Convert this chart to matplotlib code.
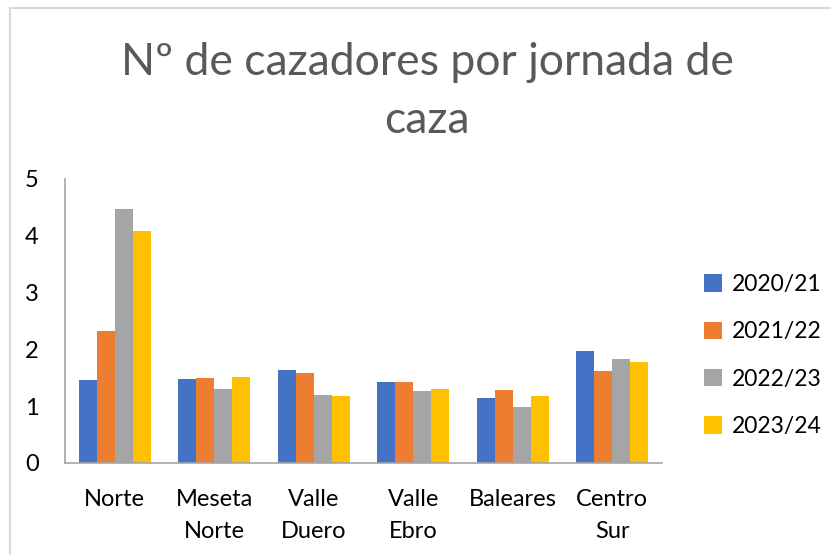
import matplotlib.pyplot as plt
import numpy as np
from matplotlib.lines import Line2D

plt.rcParams['font.family'] = ['Lato', 'DejaVu Sans']

regions = ['Norte', 'Meseta\nNorte', 'Valle\nDuero', 'Valle\nEbro', 'Baleares', 'Centro\nSur']
seasons = ['2020/21', '2021/22', '2022/23', '2023/24']
v2020 = [1.46, 1.47, 1.64, 1.42, 1.15, 1.97]
v2021 = [2.32, 1.49, 1.58, 1.43, 1.29, 1.62]
v2022 = [4.47, 1.31, 1.19, 1.26, 0.99, 1.83]
v2023 = [4.09, 1.51, 1.18, 1.31, 1.18, 1.77]
colors = ['#4472C4', '#ED7D31', '#A5A5A5', '#FFC000']

fig = plt.figure(figsize=(8.31, 5.55), dpi=100)
ax = fig.add_axes([0.0782, 0.1658, 0.7184, 0.5117])

x = np.arange(len(regions))
w = 0.181
for i, vals in enumerate([v2020, v2021, v2022, v2023]):
    ax.bar(x + (i - 1.5) * w, vals, w, color=colors[i], label=seasons[i], zorder=2)

ax.set_xlim(-0.5, 5.5)
ax.set_ylim(0, 5)
ax.set_yticks(range(6))
ax.set_xticks(x)
ax.set_xticklabels(regions, linespacing=1.6)
ax.tick_params(axis='both', length=0, labelsize=17, colors='black')
ax.tick_params(axis='y', pad=19)
ax.tick_params(axis='x', pad=19)
for s in ['top', 'right']:
    ax.spines[s].set_visible(False)
for s in ['left', 'bottom']:
    ax.spines[s].set_color('#a6a6a6')
    ax.spines[s].set_linewidth(1.2)

fig.text(0.514, 0.835, 'Nº de cazadores por jornada de\ncaza', ha='center', va='center',
         fontsize=32, color='#595959', linespacing=1.5)

fig.legend(loc='center left', bbox_to_anchor=(0.836, 0.3595), frameon=False,
           fontsize=16.5, handlelength=0.78, handleheight=0.78, handletextpad=0.45,
           labelspacing=1.15, borderaxespad=0)

# chart frame (top and left edges)
fig.add_artist(Line2D([9.5 / 831, 9.5 / 831], [0, 1 - 7.5 / 555], color='#d9d9d9', lw=1.5))
fig.add_artist(Line2D([9.5 / 831, 1], [1 - 7.5 / 555, 1 - 7.5 / 555], color='#d9d9d9', lw=1.5))

fig.savefig('out.png', dpi=100)
